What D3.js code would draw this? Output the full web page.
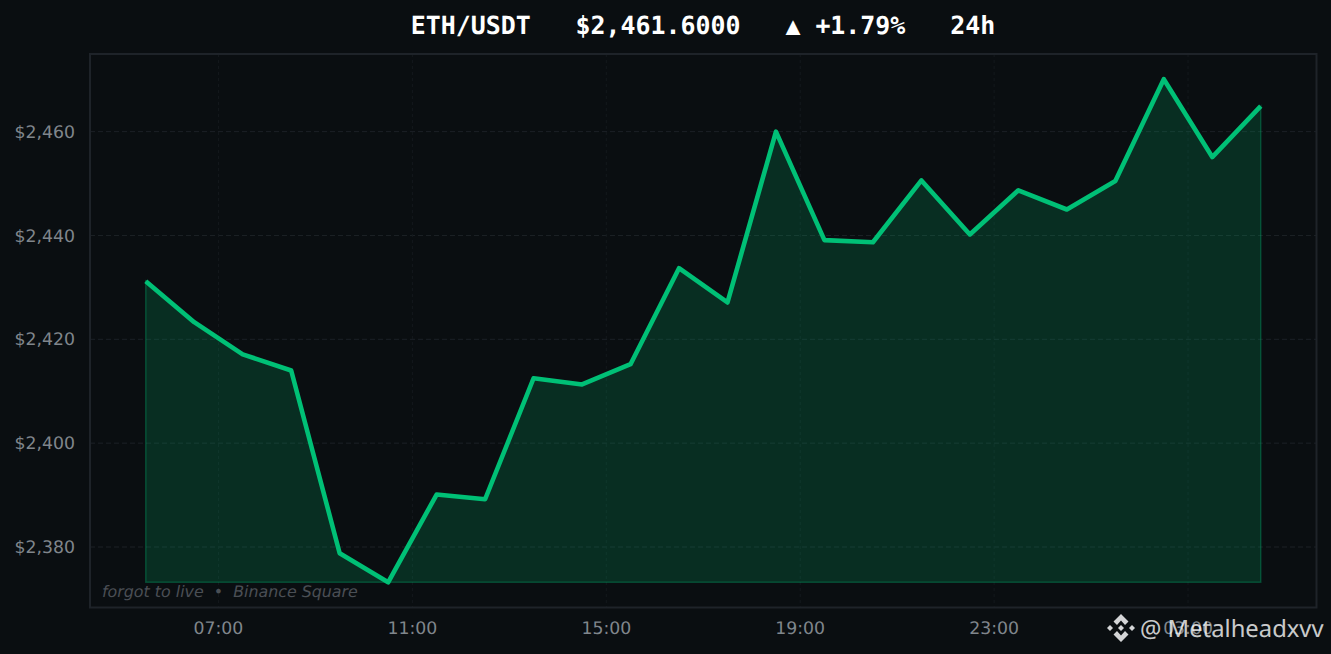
<!DOCTYPE html>
<html>
<head>
<meta http-equiv="Content-type" content="text/html; charset=utf-8">
<title>ETH/USDT</title>
<script src="https://cdnjs.cloudflare.com/ajax/libs/d3/7.8.5/d3.min.js"></script>
<style>
  html, body { margin: 0; padding: 0; background: #0a0e11; overflow: hidden; }
  svg { display: block; }
  text { font-family: "DejaVu Sans", sans-serif; text-rendering: geometricPrecision; }
</style>
</head>
<body>
<script type="text/javascript">
// hours since midnight of the first day, one point per hour
var hours = [5.5, 6.5, 7.5, 8.5, 9.5, 10.5, 11.5, 12.5, 13.5, 14.5, 15.5, 16.5,
             17.5, 18.5, 19.5, 20.5, 21.5, 22.5, 23.5, 24.5, 25.5, 26.5, 27.5, 28.5];
var prices = [2431.2, 2423.3, 2417.1, 2414.0, 2378.8, 2373.2, 2390.1, 2389.2,
              2412.5, 2411.3, 2415.2, 2433.7, 2427.1, 2460.0, 2439.1, 2438.7,
              2450.6, 2440.2, 2448.7, 2445.0, 2450.5, 2470.1, 2455.1, 2464.9];
var yTicks = [2380, 2400, 2420, 2440, 2460];
var xTicks = [7, 11, 15, 19, 23, 27];
var xTickLabels = ["07:00", "11:00", "15:00", "19:00", "23:00", "03:00"];
var titleText = "ETH/USDT\u00a0\u00a0\u00a0$2,461.6000\u00a0\u00a0\u00a0\u25b2 +1.79%\u00a0\u00a0\u00a024h";
var creditText = "forgot to live\u00a0\u00a0\u2022\u00a0\u00a0Binance Square";
var handleText = "@ Metalheadxvv";

var width = 1331, height = 654;
var left = 90, right = 1316.5, top_ = 54, bottom = 607.5;

var svg = d3.select("body").append("svg").attr("width", width).attr("height", height);

var x = d3.scaleLinear().domain([4.35, 29.65]).range([left, right]);
var y = d3.scaleLinear().domain([2368.35, 2474.95]).range([bottom, top_]);

// gridlines
svg.append("g").selectAll("line").data(yTicks).enter().append("line")
  .attr("x1", left).attr("x2", right)
  .attr("y1", function(d) { return y(d); }).attr("y2", function(d) { return y(d); })
  .attr("stroke", "#1c2126").attr("stroke-width", 1).attr("stroke-dasharray", "5,3");
svg.append("g").selectAll("line").data(xTicks).enter().append("line")
  .attr("x1", function(d) { return x(d); }).attr("x2", function(d) { return x(d); })
  .attr("y1", top_).attr("y2", bottom)
  .attr("stroke", "#14191d").attr("stroke-width", 1).attr("stroke-dasharray", "3,3");

// filled area
var area = d3.area()
  .x(function(d, i) { return x(hours[i]); })
  .y0(y(d3.min(prices)))
  .y1(function(d) { return y(d); });
svg.append("path").datum(prices)
  .attr("d", area)
  .attr("fill", "#00c076").attr("fill-opacity", 0.18)
  .attr("stroke", "#00c076").attr("stroke-opacity", 0.3).attr("stroke-width", 1.5);

// price line
var line = d3.line()
  .x(function(d, i) { return x(hours[i]); })
  .y(function(d) { return y(d); });
svg.append("path").datum(prices)
  .attr("d", line)
  .attr("fill", "none")
  .attr("stroke", "#00c076").attr("stroke-width", 4.6).attr("stroke-linejoin", "round");

// frame
svg.append("rect")
  .attr("x", left).attr("y", top_)
  .attr("width", right - left).attr("height", bottom - top_)
  .attr("fill", "none").attr("stroke", "#1e2329").attr("stroke-width", 2);

// axes
var yAxis = d3.axisLeft(y).tickValues(yTicks).tickSize(0).tickPadding(15)
  .tickFormat(function(d) { return "$" + d3.format(",")(d); });
var xAxis = d3.axisBottom(x).tickValues(xTicks).tickSize(0).tickPadding(14)
  .tickFormat(function(d, i) { return xTickLabels[i]; });

var gy = svg.append("g").attr("transform", "translate(" + left + ",0)").call(yAxis);
var gx = svg.append("g").attr("transform", "translate(-0.5," + bottom + ")").call(xAxis);
[gy, gx].forEach(function(g) {
  g.select(".domain").remove();
  g.selectAll("text")
    .attr("fill", "#80868c")
    .style("font-family", '"DejaVu Sans", sans-serif')
    .style("font-size", "17.3px");
});

// title
svg.append("text")
  .attr("x", 703).attr("y", 34)
  .attr("text-anchor", "middle")
  .attr("fill", "#ffffff")
  .style("font-family", '"DejaVu Sans Mono", monospace')
  .style("font-weight", "bold")
  .style("font-size", "24.9px")
  .text(titleText);

// small credit inside the plot
svg.append("text")
  .attr("x", 102).attr("y", 597)
  .attr("fill", "#4a4f55")
  .style("font-style", "italic")
  .style("font-size", "15.85px")
  .text(creditText);

// binance mark and handle, sits on top of the axis
var mark = svg.append("g").attr("transform", "translate(1121,628)").attr("fill", "#d4d5d7");
mark.append("path").attr("d", "M0,-14L7.5,-6.5L4,-3L0,-7.5L-4,-3L-7.5,-6.5Z");
mark.append("path").attr("d", "M0,14L7.5,6.5L4,3L0,7.5L-4,3L-7.5,6.5Z");
mark.append("path").attr("d", "M-14,0L-11,-3L-8,0L-11,3Z");
mark.append("path").attr("d", "M14,0L11,-3L8,0L11,3Z");
mark.append("path").attr("d", "M0,-3L3,0L0,3L-3,0Z");

svg.append("text")
  .attr("x", 1140).attr("y", 637)
  .attr("fill", "#ffffff").attr("fill-opacity", 0.8)
  .style("font-family", '"Noto Sans", sans-serif')
  .style("font-size", "23.8px")
  .text(handleText);
</script>
</body>
</html>
